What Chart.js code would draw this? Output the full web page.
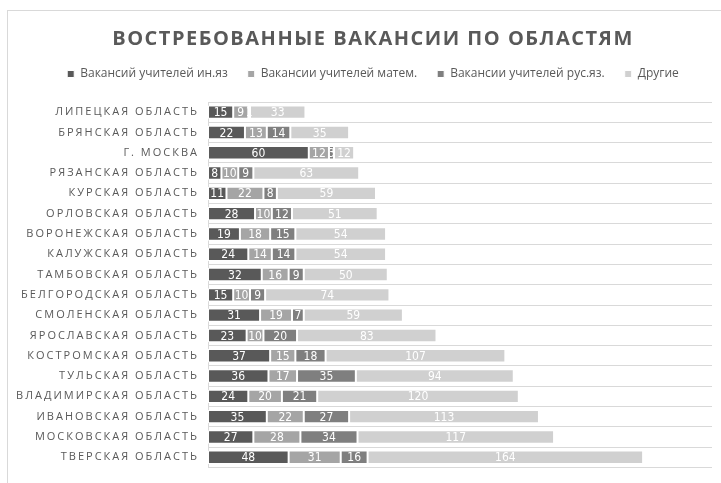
<!DOCTYPE html>
<html>
<head>
<meta charset="utf-8">
<script src="https://cdn.jsdelivr.net/npm/chart.js@4"></script>
<style>
  html, body { margin: 0; padding: 0; background: #fff; }
  #wrap { position: relative; width: 721px; height: 483px; }
  canvas { display: block; }
</style>
</head>
<body>
<div id="wrap"><canvas id="c" width="721" height="483"></canvas></div>
<script>
const categories = [
  "ЛИПЕЦКАЯ ОБЛАСТЬ", "БРЯНСКАЯ ОБЛАСТЬ", "Г. МОСКВА", "РЯЗАНСКАЯ ОБЛАСТЬ",
  "КУРСКАЯ ОБЛАСТЬ", "ОРЛОВСКАЯ ОБЛАСТЬ", "ВОРОНЕЖСКАЯ ОБЛАСТЬ", "КАЛУЖСКАЯ ОБЛАСТЬ",
  "ТАМБОВСКАЯ ОБЛАСТЬ", "БЕЛГОРОДСКАЯ ОБЛАСТЬ", "СМОЛЕНСКАЯ ОБЛАСТЬ", "ЯРОСЛАВСКАЯ ОБЛАСТЬ",
  "КОСТРОМСКАЯ ОБЛАСТЬ", "ТУЛЬСКАЯ ОБЛАСТЬ", "ВЛАДИМИРСКАЯ ОБЛАСТЬ", "ИВАНОВСКАЯ ОБЛАСТЬ",
  "МОСКОВСКАЯ ОБЛАСТЬ", "ТВЕРСКАЯ ОБЛАСТЬ"
];
const seriesNames = [
  "Вакансий учителей ин.яз", "Вакансии учителей матем.", "Вакансии учителей рус.яз.", "Другие"
];
const foreignLang = [15, 22, 60, 8, 11, 28, 19, 24, 32, 15, 31, 23, 37, 36, 24, 35, 27, 48];
const maths       = [ 9, 13, 12, 10, 22, 10, 18, 14, 16, 10, 19, 10, 15, 17, 20, 22, 28, 31];
const russian     = [ 1, 14,  3,  9,  8, 12, 15, 14,  9,  9,  7, 20, 18, 35, 21, 27, 34, 16];
const others      = [33, 35, 12, 63, 59, 51, 54, 54, 50, 74, 59, 83, 107, 94, 120, 113, 117, 164];
const xMax = 300;
const titleText = "ВОСТРЕБОВАННЫЕ ВАКАНСИИ ПО ОБЛАСТЯМ";

const colors = ["#595959", "#a5a5a5", "#7f7f7f", "#d0d0d0"];
const seriesValues = [foreignLang, maths, russian, others];
const textFont = "'Open Sans', 'Noto Sans', sans-serif";
const narrowFont = "'Liberation Sans Narrow', 'DejaVu Sans Condensed', 'Open Sans', sans-serif";

function patchSpacing(obj, method, spacing) {
  if (!obj || obj['__patched_' + method]) return;
  const orig = obj[method];
  obj[method] = function (...args) {
    const c = this.ctx;
    c.save();
    c.letterSpacing = spacing;
    orig.apply(this, args);
    c.restore();
  };
  obj['__patched_' + method] = true;
}

const spacingPlugin = {
  id: 'spacing',
  beforeLayout(chart) {
    const lg = chart.legend;
    if (lg && !lg.__patchedFit) {
      const of = lg.fit;
      lg.fit = function (...a) {
        of.apply(this, a);
        this.height += 12;
      };
      lg.__patchedFit = true;
    }
  },
  beforeDraw(chart) {
    patchSpacing(chart.titleBlock, 'draw', '1.5px');
    const ys = chart.scales.y;
    if (ys) {
      ys._computeLabelArea = function () { return undefined; };
      patchSpacing(ys, 'drawLabels', '2px');
    }
  }
};

const framePlugin = {
  id: 'frame',
  beforeDraw(chart) {
    const c = chart.ctx;
    c.save();
    c.strokeStyle = '#d9d9d9';
    c.lineWidth = 1;
    c.strokeRect(7.5, 10.5, 800, 600);
    c.restore();
  }
};

const valueLabels = {
  id: 'valueLabels',
  afterDatasetsDraw(chart) {
    const c = chart.ctx;
    c.save();
    c.font = "12px " + narrowFont;
    c.fillStyle = '#ffffff';
    c.textAlign = 'center';
    c.textBaseline = 'middle';
    chart.data.datasets.forEach((ds, i) => {
      const meta = chart.getDatasetMeta(i);
      meta.data.forEach((el, j) => {
        const v = ds.data[j];
        const cx = (el.x + el.base) / 2;
        c.fillText(String(v), cx, el.y + 1);
      });
    });
    c.restore();
  }
};

new Chart(document.getElementById('c'), {
  type: 'bar',
  data: {
    labels: categories,
    datasets: seriesValues.map((vals, i) => ({
      label: seriesNames[i],
      data: vals,
      backgroundColor: colors[i],
      borderColor: '#ffffff',
      borderWidth: 1,
      borderSkipped: false,
      barPercentage: 0.66,
      categoryPercentage: 1
    }))
  },
  options: {
    indexAxis: 'y',
    responsive: false,
    animation: false,
    layout: { padding: { left: 34, right: 9, top: 0, bottom: 13 } },
    plugins: {
      title: {
        display: true,
        text: titleText,
        color: '#595959',
        font: { family: textFont, size: 20, weight: 'bold' },
        padding: { top: 27, bottom: -3 }
      },
      legend: {
        display: true,
        position: 'top',
        labels: {
          boxWidth: 7,
          boxHeight: 7,
          color: '#595959',
          padding: 20,
          font: { family: textFont, size: 12 }
        }
      },
      tooltip: { enabled: false }
    },
    scales: {
      x: {
        stacked: true,
        display: false,
        min: 0,
        max: xMax
      },
      y: {
        stacked: true,
        afterFit(scale) { scale.width = 174; },
        grid: {
          color: '#d9d9d9',
          lineWidth: 1,
          drawTicks: false,
          offset: true
        },
        border: { display: true, color: '#d9d9d9' },
        ticks: {
          color: '#595959',
          padding: 9,
          font: { family: textFont, size: 11 }
        }
      }
    }
  },
  plugins: [spacingPlugin, framePlugin, valueLabels]
});
</script>
</body>
</html>
